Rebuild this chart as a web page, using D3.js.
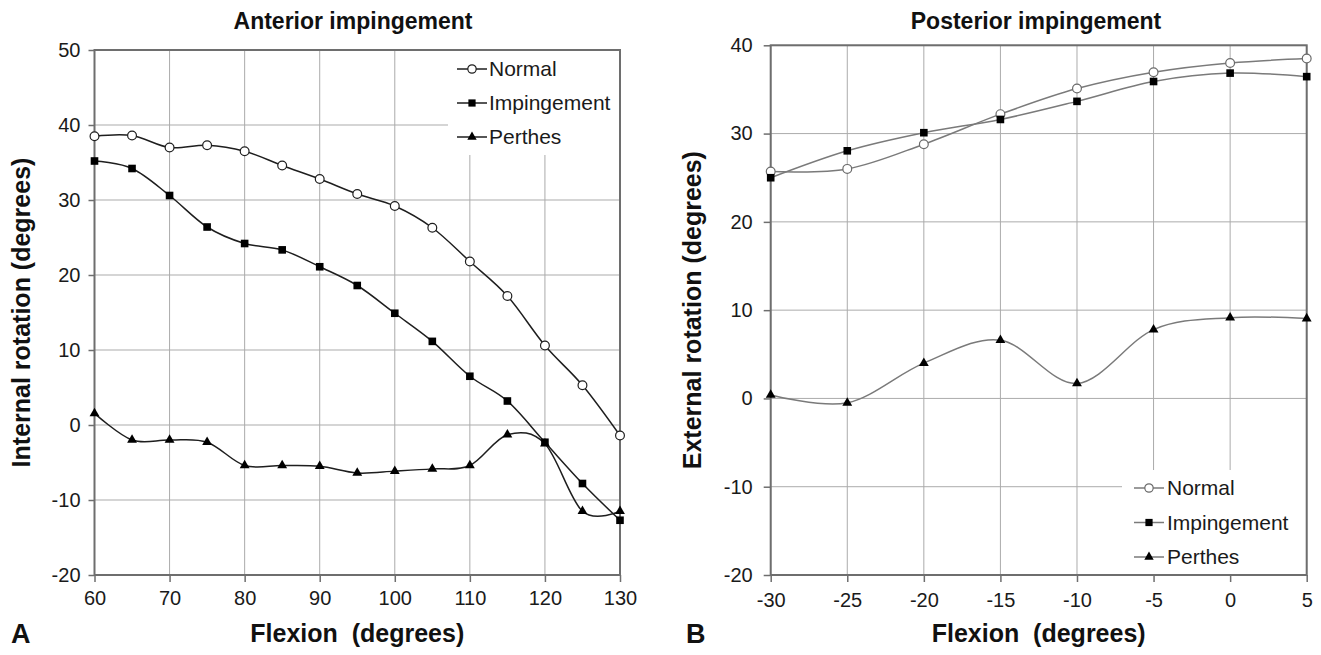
<!DOCTYPE html>
<html><head><meta charset="utf-8">
<script src="https://cdn.jsdelivr.net/npm/d3@7"></script>
<style>
body{margin:0;background:#fff}
svg{font-family:"Liberation Sans",Arial,Helvetica,sans-serif}
</style>
</head><body>
<svg id="chart" width="1321" height="655"></svg>
<script>
// ---------- data ----------
const seriesNames = ["Normal", "Impingement", "Perthes"];

// Panel A: Anterior impingement
const flexionA = [60, 65, 70, 75, 80, 85, 90, 95, 100, 105, 110, 115, 120, 125, 130];
const normalA = [38.5, 38.6, 37.0, 37.3, 36.5, 34.6, 32.8, 30.8, 29.2, 26.3, 21.8, 17.2, 10.6, 5.3, -1.4];
const impingementA = [35.2, 34.2, 30.6, 26.4, 24.2, 23.35, 21.1, 18.6, 14.9, 11.15, 6.5, 3.2, -2.3, -7.8, -12.7];
const perthesA = [1.55, -2.0, -2.0, -2.3, -5.4, -5.4, -5.5, -6.4, -6.15, -5.85, -5.4, -1.3, -2.5, -11.5, -11.5];
const xTicksA = [60, 70, 80, 90, 100, 110, 120, 130];
const yTicksA = [-20, -10, 0, 10, 20, 30, 40, 50];

// Panel B: Posterior impingement
const flexionB = [-30, -25, -20, -15, -10, -5, 0, 5];
const normalB = [25.7, 26.0, 28.8, 32.2, 35.1, 36.95, 38.0, 38.5];
const impingementB = [25.0, 28.05, 30.1, 31.6, 33.65, 35.9, 36.85, 36.45];
const perthesB = [0.4, -0.5, 4.0, 6.6, 1.7, 7.8, 9.15, 9.05];
const xTicksB = [-30, -25, -20, -15, -10, -5, 0, 5];
const yTicksB = [-20, -10, 0, 10, 20, 30, 40];

const titles = ["Anterior impingement", "Posterior impingement"];
const yTitles = ["Internal rotation (degrees)", "External rotation (degrees)"];
const xTitle = "Flexion  (degrees)";
const panelLetters = ["A", "B"];

// ---------- drawing ----------
const svg = d3.select("#chart");

function drawPanel(cfg) {
  const g = svg.append("g");
  const x = d3.scaleLinear().domain(cfg.xDomain).range([cfg.left, cfg.right]);
  const y = d3.scaleLinear().domain(cfg.yDomain).range([cfg.bottom, cfg.top]);

  // grid
  g.append("g").selectAll("line").data(cfg.xTicks).join("line")
    .attr("x1", d => x(d)).attr("x2", d => x(d))
    .attr("y1", cfg.top).attr("y2", cfg.bottom)
    .attr("stroke", "#ababab").attr("stroke-width", 1);
  g.append("g").selectAll("line").data(cfg.yTicks).join("line")
    .attr("x1", cfg.left).attr("x2", cfg.right)
    .attr("y1", d => y(d)).attr("y2", d => y(d))
    .attr("stroke", "#ababab").attr("stroke-width", 1);

  // legend background (covers grid)
  g.append("rect")
    .attr("x", cfg.legend.bx).attr("y", cfg.legend.by)
    .attr("width", cfg.legend.bw).attr("height", cfg.legend.bh)
    .attr("fill", "#fff");

  // axes
  const fmt = d => String(d);
  const xAxis = d3.axisBottom(x).tickValues(cfg.xTicks).tickFormat(fmt).tickSize(7).tickPadding(cfg.xPad).tickSizeOuter(0);
  const yAxis = d3.axisLeft(y).tickValues(cfg.yTicks).tickFormat(fmt).tickSize(cfg.yTick).tickPadding(cfg.yPad).tickSizeOuter(0);
  const gx = g.append("g").attr("transform", `translate(0,${cfg.bottom})`).call(xAxis);
  const gy = g.append("g").attr("transform", `translate(${cfg.left},0)`).call(yAxis);
  [gx, gy].forEach(a => {
    a.select(".domain").remove();
    a.selectAll(".tick line").attr("stroke", "#6e6e6e").attr("stroke-width", 1.5);
    a.selectAll(".tick text").attr("font-size", 20).attr("fill", "#1a1a1a")
      .attr("font-family", "'Liberation Sans', Arial, sans-serif");
  });

  // plot border
  g.append("rect")
    .attr("x", cfg.left).attr("y", cfg.top)
    .attr("width", cfg.right - cfg.left).attr("height", cfg.bottom - cfg.top)
    .attr("fill", "none").attr("stroke", "#6e6e6e").attr("stroke-width", 2);

  // series
  const line = d3.line().x(d => x(d[0])).y(d => y(d[1])).curve(d3.curveCardinal.tension(0));
  const series = cfg.series.map((vals, i) => ({
    name: seriesNames[i],
    pts: cfg.xs.map((xv, j) => [xv, vals[j]])
  }));
  series.forEach(s => {
    g.append("path").datum(s.pts).attr("d", line)
      .attr("fill", "none").attr("stroke", cfg.lineColor).attr("stroke-width", 1.5);
  });

  function marker(sel, kind, cx, cy, sc) {
    if (kind === 0) {
      sel.append("circle").attr("cx", cx).attr("cy", cy).attr("r", 4.4 * sc)
        .attr("fill", "#fff").attr("stroke", cfg.markerStroke).attr("stroke-width", 1.2);
    } else if (kind === 1) {
      const s = 7.6 * sc;
      sel.append("rect").attr("x", cx - s / 2).attr("y", cy - s / 2).attr("width", s).attr("height", s)
        .attr("fill", "#000");
    } else {
      sel.append("path").attr("d", d3.symbol(d3.symbolTriangle, 42 * sc * sc)())
        .attr("transform", `translate(${cx},${cy})`).attr("fill", "#000");
    }
  }
  series.forEach((s, i) => {
    const mg = g.append("g");
    s.pts.forEach(p => marker(mg, i, x(p[0]), y(p[1]), 1));
  });

  // legend
  const L = cfg.legend;
  seriesNames.forEach((name, i) => {
    const ly = L.y0 + i * L.dy;
    g.append("line").attr("x1", L.x1).attr("x2", L.x2).attr("y1", ly).attr("y2", ly)
      .attr("stroke", cfg.lineColor).attr("stroke-width", 1.5);
    marker(g, i, (L.x1 + L.x2) / 2, ly, 0.95);
    g.append("text").attr("x", L.tx).attr("y", ly).attr("dy", "0.35em")
      .attr("font-size", 21).attr("fill", "#1a1a1a").text(name);
  });

  // titles
  g.append("text").attr("x", cfg.titleX).attr("y", 29).attr("text-anchor", "middle")
    .attr("font-size", 23).attr("font-weight", "bold").attr("fill", "#111").text(cfg.title);
  g.append("text").attr("x", (cfg.left + cfg.right) / 2).attr("y", 642).attr("text-anchor", "middle")
    .attr("font-size", 25).attr("font-weight", "bold").attr("fill", "#111")
    .style("white-space", "pre").text(xTitle);
  g.append("text")
    .attr("transform", `translate(${cfg.yTitleX},${(cfg.top + cfg.bottom) / 2}) rotate(-90)`)
    .attr("text-anchor", "middle").attr("dy", "0.35em")
    .attr("font-size", 25).attr("font-weight", "bold").attr("fill", "#111").text(cfg.yTitle);
  g.append("text").attr("x", cfg.letterX).attr("y", 643)
    .attr("font-size", 27).attr("font-weight", "bold").attr("fill", "#111").text(cfg.letter);
}

drawPanel({
  xDomain: [60, 130], yDomain: [-20, 50],
  left: 94.5, right: 620, top: 50, bottom: 575,
  xTicks: xTicksA, yTicks: yTicksA, xs: flexionA,
  series: [normalA, impingementA, perthesA],
  xPad: 9, yTick: 6, yPad: 8,
  lineColor: "#1e1e1e", markerStroke: "#1e1e1e",
  legend: { bx: 448, by: 51, bw: 171, bh: 104, x1: 457, x2: 487, tx: 489, y0: 69, dy: 34 },
  title: titles[0], titleX: 353, yTitle: yTitles[0], yTitleX: 21,
  letter: panelLetters[0], letterX: 11
});

drawPanel({
  xDomain: [-30, 5], yDomain: [-20, 40],
  left: 770.7, right: 1306.7, top: 45.3, bottom: 575,
  xTicks: xTicksB, yTicks: yTicksB, xs: flexionB,
  series: [normalB, impingementB, perthesB],
  xPad: 11, yTick: 7, yPad: 11,
  lineColor: "#7a7a7a", markerStroke: "#6a6a6a",
  legend: { bx: 1122, by: 470, bw: 184, bh: 104, x1: 1134, x2: 1164, tx: 1167, y0: 488, dy: 34.5 },
  title: titles[1], titleX: 1036, yTitle: yTitles[1], yTitleX: 692,
  letter: panelLetters[1], letterX: 686
});
</script>
</body></html>
